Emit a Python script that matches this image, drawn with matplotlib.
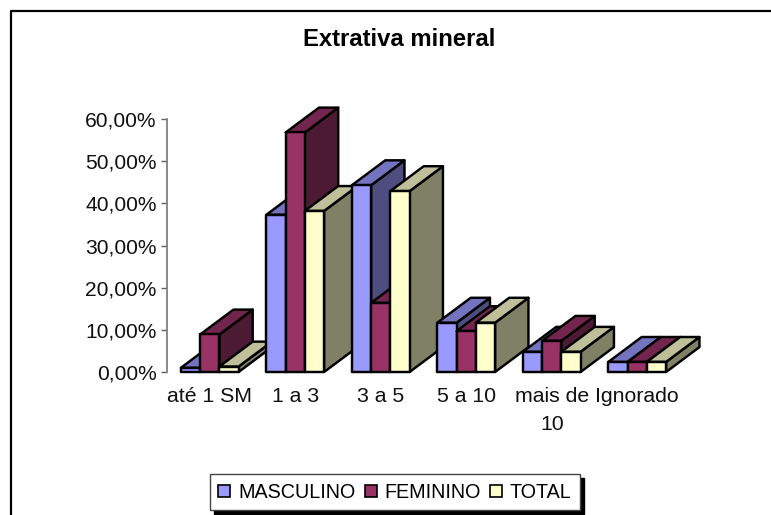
import matplotlib
matplotlib.use("Agg")
import matplotlib.pyplot as plt
from matplotlib.legend_handler import HandlerPatch
from matplotlib.lines import Line2D
from matplotlib.patches import Patch, Polygon, Rectangle

plt.rcParams['font.family'] = ['Liberation Sans', 'DejaVu Sans']

categories = ["até 1 SM", "1 a 3", "3 a 5", "5 a 10", "mais de\n10", "Ignorado"]
masculino = [1.0, 37.3, 44.3, 11.7, 4.8, 2.4]
feminino = [8.9, 56.8, 16.4, 9.7, 7.4, 2.4]
total = [1.3, 38.2, 42.9, 11.7, 4.8, 2.4]
y_ticks = [0, 10, 20, 30, 40, 50, 60]
y_labels = ["0,00%", "10,00%", "20,00%", "30,00%", "40,00%", "50,00%", "60,00%"]

series = [
    ("MASCULINO", masculino, "#9999FF", "#7373C0", "#4D4D80"),
    ("FEMININO", feminino, "#993366", "#73264D", "#4D1A33"),
    ("TOTAL", total, "#FFFFCC", "#BFBF99", "#808066"),
]

W, H = 771, 515
BAR_W = 0.225
DEPTH_X = 0.39
DEPTH_Y = 5.9


def draw_bar(ax, x, value, front, top, side):
    x1 = x + BAR_W
    kw = dict(edgecolor="black", linewidth=1.75, joinstyle="round", clip_on=False)
    ax.add_patch(Polygon([(x1, 0), (x1 + DEPTH_X, DEPTH_Y), (x1 + DEPTH_X, value + DEPTH_Y), (x1, value)],
                         facecolor=side, **kw))
    ax.add_patch(Polygon([(x, value), (x + DEPTH_X, value + DEPTH_Y), (x1 + DEPTH_X, value + DEPTH_Y), (x1, value)],
                         facecolor=top, **kw))
    ax.add_patch(Polygon([(x, 0), (x, value), (x1, value), (x1, 0)], facecolor=front, **kw))


def square_key(legend, orig_handle, xdescent, ydescent, width, height, fontsize):
    # small square key, centred in a row that is taller than the key
    size = 0.62 * fontsize
    return Rectangle((-xdescent, -ydescent + (height - size) / 2), size, size)


fig = plt.figure(figsize=(W / 100, H / 100), dpi=100)
ax = fig.add_axes([167 / W, 1 - 372 / H, 513 / W, 253 / H])
ax.set_xlim(-0.5, 5.5)
ax.set_ylim(0, 60)

# painter's order: left to right, so each front face covers its neighbour's side
for i in range(len(categories)):
    for j, (name, values, front, top, side) in enumerate(series):
        draw_bar(ax, i + (j - 1.5) * BAR_W, values[i], front, top, side)

for s in ("top", "right", "bottom"):
    ax.spines[s].set_visible(False)
ax.spines["left"].set_color("#808080")
ax.spines["left"].set_linewidth(1.3)
ax.set_yticks(y_ticks)
ax.set_yticklabels(y_labels, fontsize=15.1, color="#111111")
ax.tick_params(axis="y", length=4.5, width=1, color="#606060", pad=3)
ax.set_xticks(range(len(categories)))
ax.set_xticklabels(categories, fontsize=15.3, color="#111111", linespacing=1.55)
ax.tick_params(axis="x", length=0, pad=11)

fig.text(399.5 / W, 1 - 39 / H, "Extrativa mineral", fontsize=17.2, fontweight="bold",
         ha="center", va="center", color="black")

# outer chart frame runs off the bottom and right of the image
frame_x = [10.5 / W, 10.5 / W, 1]
frame_y = [0, 1 - 10.5 / H, 1 - 10.5 / H]
fig.add_artist(Line2D(frame_x, frame_y, color="black", linewidth=1.6))

handles = [Patch(facecolor=s[2], edgecolor="black", linewidth=1.2, label=s[0]) for s in series]
leg = ax.legend(handles=handles, ncol=3, loc="center", bbox_to_anchor=(395 / W, 1 - 492 / H),
                bbox_transform=fig.transFigure, fontsize=14.2, frameon=True, fancybox=False,
                shadow={"ox": 3, "oy": -3, "color": "black", "alpha": 1},
                edgecolor="#444444", framealpha=1, handlelength=0.62, handleheight=1.0,
                handletextpad=0.4, columnspacing=0.45, borderpad=0.42, borderaxespad=0,
                handler_map={Patch: HandlerPatch(patch_func=square_key)})
leg.get_frame().set_linewidth(1)

fig.savefig("out.png", dpi=100)
